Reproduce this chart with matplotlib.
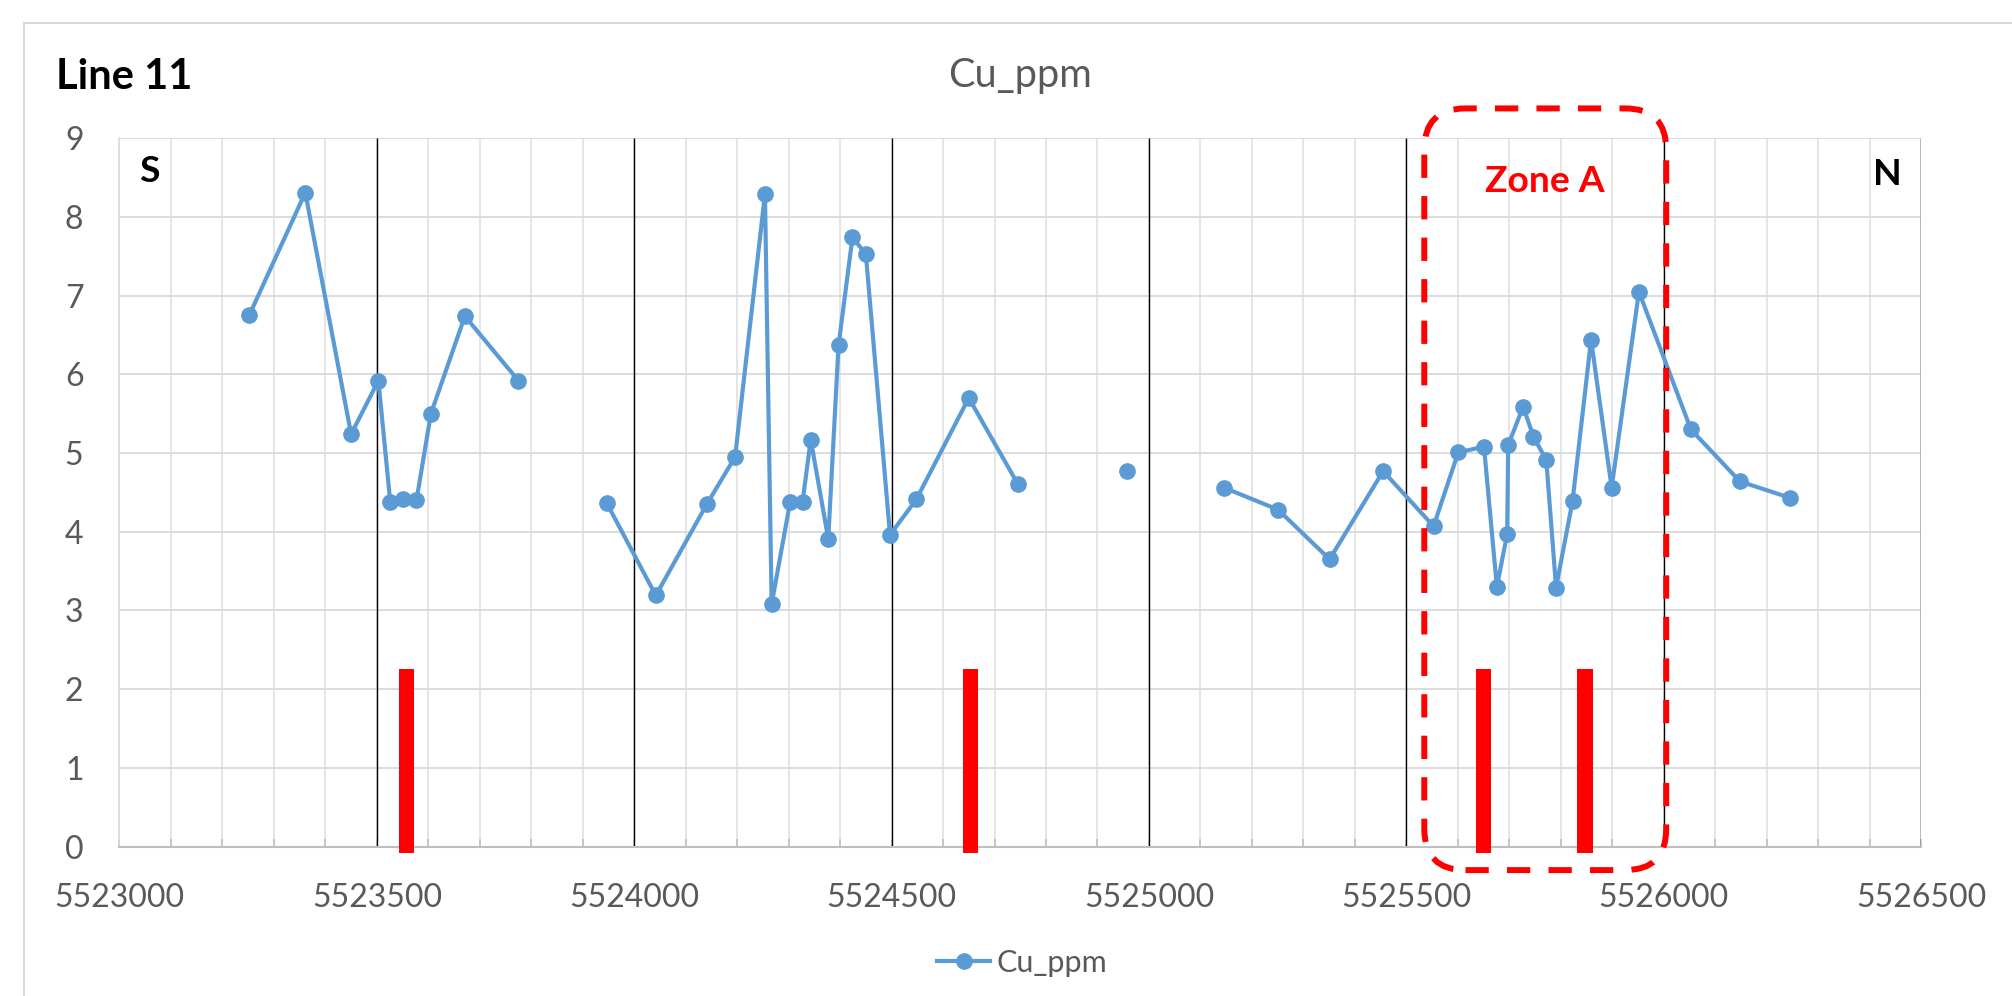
import numpy as np
import matplotlib
matplotlib.use("Agg")
from matplotlib import pyplot as plt
from matplotlib.patches import FancyBboxPatch
from matplotlib.lines import Line2D
from matplotlib.ticker import MultipleLocator

plt.rcParams['font.family'] = ['Lato', 'DejaVu Sans']

# northing (m) and Cu (ppm); nan = gap in the profile line
northing = [5523252, 5523361, 5523450, 5523503, 5523526, 5523551, 5523577, 5523605, 5523671, 5523775,
            np.nan,
            5523947, 5524042, 5524141, 5524196, 5524254, 5524267, 5524303, 5524327, 5524343, 5524377,
            5524397, 5524424, 5524450, 5524497, 5524548, 5524650, 5524745,
            np.nan,
            5524957,
            np.nan,
            5525146, 5525251, 5525351, 5525455, 5525553, 5525601, 5525651, 5525676, 5525696, 5525698,
            5525727, 5525747, 5525772, 5525791, 5525823, 5525859, 5525899, 5525952, 5526053, 5526148,
            5526246]
cu_ppm = [6.75, 8.31, 5.24, 5.92, 4.38, 4.42, 4.40, 5.50, 6.74, 5.92,
          np.nan,
          4.36, 3.19, 4.35, 4.95, 8.29, 3.08, 4.38, 4.38, 5.17, 3.91,
          6.37, 7.74, 7.53, 3.96, 4.41, 5.70, 4.61,
          np.nan,
          4.77,
          np.nan,
          4.56, 4.28, 3.65, 4.77, 4.07, 5.01, 5.08, 3.30, 3.97, 5.10,
          5.59, 5.21, 4.91, 3.29, 4.39, 6.44, 4.56, 7.05, 5.30, 4.64,
          4.43]

# red markers (mineralised intervals)
marker_x = [5523558, 5524653, 5525650, 5525847]
marker_top = 2.26
marker_bottom = -0.08

zone_start, zone_end = 5525535, 5526005
zone_top, zone_bottom = 9.38, -0.30

xmin, xmax = 5523000, 5526500
ymin, ymax = 0, 9

blue = '#5b9bd5'
grey_txt = '#595959'

fig = plt.figure(figsize=(20.12, 9.96), dpi=100)
ax = fig.add_axes([0.05939, 0.15010, 0.89538, 0.71104])
ax.set_xlim(xmin, xmax)
ax.set_ylim(ymin, ymax)

ax.xaxis.set_major_locator(MultipleLocator(500))
ax.xaxis.set_minor_locator(MultipleLocator(100))
ax.yaxis.set_major_locator(MultipleLocator(1))
ax.grid(True, which='minor', axis='x', color='#dedede', lw=1.1)
ax.grid(True, which='major', axis='x', color='#dedede', lw=1.1)
ax.grid(True, which='major', axis='y', color='#d9d9d9', lw=1.3)
ax.set_axisbelow(True)

for s in ['top', 'right']:
    ax.spines[s].set_visible(False)
ax.spines['left'].set_color('#d9d9d9')
ax.spines['left'].set_linewidth(1.2)
ax.spines['bottom'].set_color('#bfbfbf')
ax.spines['bottom'].set_linewidth(1.5)

ax.tick_params(axis='x', which='both', direction='in', length=5.8, width=1.1,
               color='#bfbfbf', labelsize=23, labelcolor=grey_txt, pad=26)
ax.tick_params(axis='y', which='both', length=0, labelsize=23, labelcolor=grey_txt, pad=26)
ax.set_xticks(np.arange(xmin, xmax + 1, 500))
ax.set_xticklabels([str(v) for v in range(xmin, xmax + 1, 500)])

# black section lines every 500 m
ax.vlines(np.arange(xmin + 500, xmax + 1, 500), ymin, ymax, color='black', lw=1.0, zorder=1.5)

ax.plot(northing, cu_ppm, color=blue, lw=3.0, marker='o', ms=11, label='Cu_ppm', zorder=3)

ax.bar(marker_x, marker_top - marker_bottom, bottom=marker_bottom, width=30,
       color='#ff0000', zorder=4, clip_on=False)

# rounded dashed box for Zone A (aspect from the data transform)
p0 = ax.transData.transform((xmin, ymin))
p1 = ax.transData.transform((xmin + 1, ymin + 1))
aspect = (p1[0] - p0[0]) / (p1[1] - p0[1])
box = FancyBboxPatch((zone_start, zone_bottom), zone_end - zone_start, zone_top - zone_bottom,
                     boxstyle='round,pad=0,rounding_size=80', mutation_aspect=aspect,
                     fill=False, edgecolor='#ff0000', lw=4.3, linestyle=(0, (3.9, 3.05)),
                     clip_on=False, zorder=5)
ax.add_patch(box)

ax.text((zone_start + zone_end) / 2, 0.9246, 'Zone A', transform=ax.get_xaxis_transform(),
        ha='center', va='baseline', fontsize=26.8, fontweight='bold', color='#ff0000')
ax.text(0.0108, 0.938, 'S', transform=ax.transAxes, ha='left', va='baseline',
        fontsize=26.8, fontweight='bold', color='black')
ax.text(0.9894, 0.934, 'N', transform=ax.transAxes, ha='right', va='baseline',
        fontsize=26.8, fontweight='bold', color='black')

fig.text(1020 / 2012, 1 - 87 / 996, 'Cu_ppm', ha='center', va='baseline', fontsize=28.6, color=grey_txt)
fig.text(56 / 2012, 1 - 89.3 / 996, 'Line 11', ha='left', va='baseline', fontsize=30,
         fontweight='bold', color='black')

fig.legend(handles=[Line2D([], [], color=blue, lw=3.0, marker='o', ms=11)], labels=['Cu_ppm'],
           loc='center', bbox_to_anchor=(1022 / 2012, 1 - 963 / 996), frameon=False,
           fontsize=22, handlelength=1.75, handletextpad=0.2, labelcolor=grey_txt)

# chart area border
fig.add_artist(Line2D([23.5 / 2012, 1], [1 - 23 / 996] * 2, transform=fig.transFigure,
                      color='#d9d9d9', lw=1.5))
fig.add_artist(Line2D([23.5 / 2012] * 2, [0, 1 - 23 / 996], transform=fig.transFigure,
                      color='#d9d9d9', lw=1.5))

plt.savefig('out.png', dpi=100)
